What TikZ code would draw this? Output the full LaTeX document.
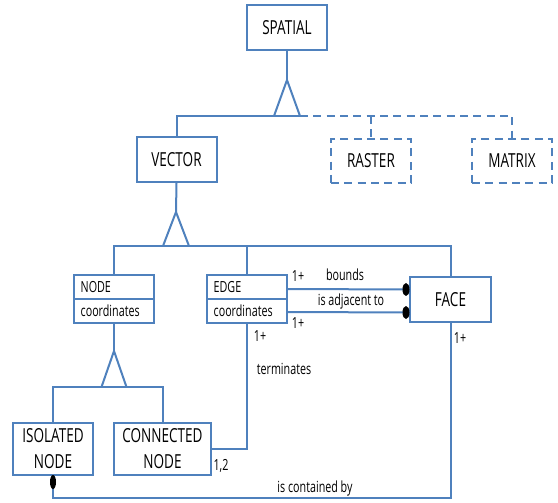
\documentclass[tikz,border=0pt]{standalone}
\usepackage{fontspec}
\usetikzlibrary{shapes.multipart, calc}
\newfontfamily\diagfont[FakeStretch=0.70]{Open Sans}
\definecolor{umlblue}{RGB}{79,129,189}
\newcommand{\bigtxt}{\diagfont\fontsize{14.5pt}{19.5pt}\selectfont}
\newcommand{\smalltxt}{\diagfont\fontsize{11.5pt}{14pt}\selectfont}

\tikzset{
  conn/.style={draw=umlblue, line width=1.5pt},
  ghostline/.style={conn, dash pattern=on 6pt off 4pt},
  cls/.style={conn, fill=white, inner sep=0pt, minimum width=60pt, minimum height=33.75pt, font=\bigtxt, align=center},
  ghostcls/.style={cls, dash pattern=on 6pt off 4pt},
  attcls/.style={conn, fill=white, rectangle split, rectangle split parts=2, rectangle split part align={left}, inner xsep=5pt, inner ysep=4pt, minimum width=60pt, font=\smalltxt},
  lbl/.style={font=\smalltxt, inner sep=0pt},
}

\begin{document}
\begin{tikzpicture}[x=0.75pt,y=0.75pt,yscale=-1,xscale=1]
\path[use as bounding box] (0,0) rectangle (558,503);

% classes
\node[cls] (spatial) at (287,28) {SPATIAL};
\node[cls] (vector) at (176.5,159.5) {VECTOR};
\node[ghostcls, minimum height=33pt] (raster) at (371,161) {RASTER};
\node[ghostcls, minimum height=33pt] (matrix) at (512,161) {MATRIX};
\node[attcls] (node) at (114,299) {NODE \nodepart{two} coordinates};
\node[attcls] (edge) at (247,299) {EDGE \nodepart{two} coordinates};
\node[cls, minimum width=60.75pt] (face) at (450.5,299.5) {FACE};
\node[cls, minimum height=39pt] (isolated) at (53,449) {ISOLATED\\NODE};
\node[cls, minimum width=72.75pt, minimum height=39pt] (connected) at (162.5,449) {CONNECTED\\NODE};

% generalization points
\coordinate (gs) at (287,80);
\coordinate (gsb) at (287,116);
\coordinate (gv) at (176,212);
\coordinate (gvb) at (176,246);
\coordinate (gn) at (114,351);
\coordinate (gnb) at (114,387);

% spatial
\draw[conn] (spatial.south) -- (gs);
\draw[conn] ($(gsb)+(-13,0)$) -- (gs) -- ($(gsb)+(13,0)$);
\draw[conn] (vector.north) |- ($(gsb)+(13,0)$);
\draw[ghostline] ($(gsb)+(13,0)$) -| (matrix.north);
\draw[ghostline] (raster.north |- gsb) -- (raster.north);

% vector
\draw[conn] (vector.south) -- (gv);
\draw[conn] ($(gvb)+(-13,0)$) -- (gv) -- ($(gvb)+(13,0)$);
\draw[conn] (node.north) |- (gvb) -| (face.north);
\draw[conn] (edge.north |- gvb) -- (edge.north);

% node
\draw[conn] (node.south) -- (gn);
\draw[conn] ($(gnb)+(-12.5,0)$) -- (gn) -- ($(gnb)+(12.5,0)$);
\draw[conn] (isolated.north) |- (gnb) -| (connected.north);

% associations
\draw[conn] ($(edge.east)+(0,-10)$) -- ($(face.west)+(0,-10)$);
\draw[conn] ($(edge.east)+(0,13)$) -- ($(face.west)+(0,13)$);
\fill ($(face.west)+(-3,-10)$) ellipse [x radius=3.5, y radius=6.5];
\fill ($(face.west)+(-3,13)$) ellipse [x radius=3.5, y radius=6.5];
\draw[conn] (connected.east) -| (edge.south);
\draw[conn] (isolated.south) -- ++(0,22) -| (face.south);
\fill ($(isolated.south)+(0,6)$) ellipse [x radius=3, y radius=7];

% labels
\node[lbl] (m1) at (298,276) {1+};
\node[lbl] (bounds) at (345,275) {bounds};
\node[lbl] (adjacent) at (351,302) {is adjacent to};
\node[lbl] (m2) at (298,323) {1+};
\node[lbl] (m3) at (260,336) {1+};
\node[lbl] (terminates) at (284,369) {terminates};
\node[lbl] (m4) at (221,466) {1,2};
\node[lbl] (contained) at (315,489) {is contained by};
\node[lbl] (m5) at (460,338) {1+};

\end{tikzpicture}
\end{document}
